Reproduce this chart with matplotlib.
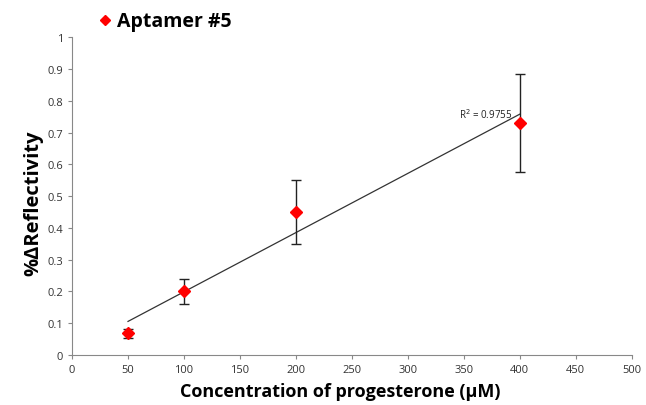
import numpy as np
import matplotlib
matplotlib.use("Agg")
import matplotlib.pyplot as plt
from matplotlib.lines import Line2D

# data
conc = [50, 100, 200, 400]
reflectivity = [0.068, 0.200, 0.450, 0.730]
err = [0.015, 0.040, 0.100, 0.155]
r2_text = "R$^2$ = 0.9755"

plt.rcParams["font.family"] = ["Open Sans", "DejaVu Sans"]

fig = plt.figure(figsize=(6.46, 4.06), dpi=100)
ax = fig.add_axes([0.1115, 0.123, 0.8665, 0.783])

ax.errorbar(conc, reflectivity, yerr=err, fmt="none", ecolor="#222222",
            elinewidth=1.0, capsize=3.5, capthick=1.0, zorder=2)
ax.plot(conc, reflectivity, linestyle="none", marker="D", markersize=6.5,
        color="#ff0000", zorder=3)

# linear trendline
slope, icpt = np.polyfit(conc, reflectivity, 1)
xs = np.array([min(conc), max(conc)])
ax.plot(xs, slope * xs + icpt, color="#333333", linewidth=0.9, zorder=1)
ax.text(346, 0.758, r2_text, fontsize=7, color="#222222", ha="left", va="center")

ax.set_xlim(0, 500)
ax.set_ylim(0, 1)
ax.set_xticks(np.arange(0, 501, 50))
ax.set_yticks(np.arange(0, 1.01, 0.1))
ax.set_yticklabels(["0"] + [f"{v:.1f}" for v in np.arange(0.1, 0.95, 0.1)] + ["1"])
ax.tick_params(labelsize=8, colors="#888888", labelcolor="#333333",
               length=3, width=0.8)
for s in ["top", "right"]:
    ax.spines[s].set_visible(False)
for s in ["left", "bottom"]:
    ax.spines[s].set_color("#888888")
    ax.spines[s].set_linewidth(0.8)

ax.set_xlabel("Concentration of progesterone (µM)", fontsize=13,
              fontweight="bold")
ax.xaxis.set_label_coords(0.48, -0.085)
ax.set_ylabel("%ΔReflectivity", fontsize=14.5, fontweight="bold")
ax.yaxis.set_label_coords(-0.052, 0.48)

handle = Line2D([], [], linestyle="none", marker="D", markersize=5.5, color="#ff0000")
fig.legend(handles=[handle], labels=["Aptamer #5"], loc="center left",
           bbox_to_anchor=(0.118, 0.945), frameon=False, handletextpad=0.0,
           prop={"size": 14, "weight": "bold"}, handlelength=1.2)

fig.savefig("out.png", dpi=100)
